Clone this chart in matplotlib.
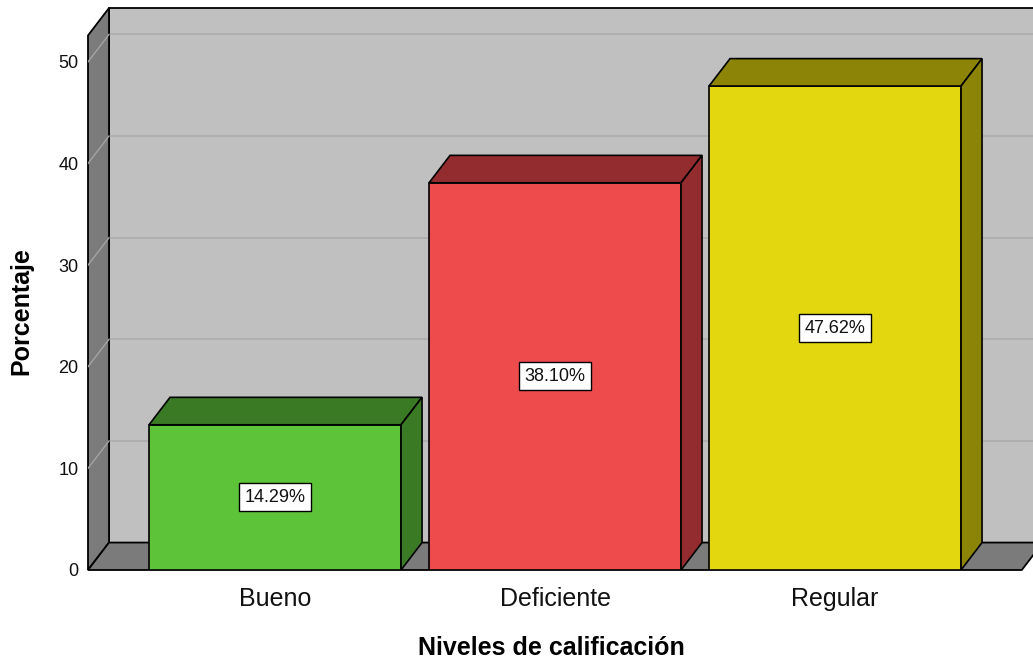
import matplotlib
matplotlib.use("Agg")
import matplotlib.pyplot as plt
import matplotlib.patches as mpatches
import numpy as np

plt.rcParams['font.family'] = ['Liberation Sans', 'DejaVu Sans']

# data
categorias = ['Bueno', 'Deficiente', 'Regular']
porcentajes = [14.29, 38.10, 47.62]
etiquetas = ['14.29%', '38.10%', '47.62%']
yticks = [0, 10, 20, 30, 40, 50]

# colours (front, dark top/side)
c_front = ['#5dc43a', '#ee4b4d', '#e3d70f']
c_dark = ['#3a7a25', '#922c2e', '#8c8407']

W = 0.9          # bar width
DX, DY = 0.075, 2.7   # 3d depth offset in data units
X0, X1 = -0.668, 2.707
Y1 = 55.3

fig = plt.figure(figsize=(10.33, 6.68), dpi=100)
ax = fig.add_axes([88/1033, 98/668, (1033-88)/1033, (660-98)/668])
ax.set_xlim(X0, X1)
ax.set_ylim(0, Y1)
for s in ax.spines.values():
    s.set_visible(False)

# back wall
back = mpatches.Rectangle((X0 + DX, DY), X1 - X0, Y1 - DY, facecolor='#c0c0c0',
                          edgecolor='black', lw=1.3, clip_on=False, zorder=0)
ax.add_patch(back)
# left wall
left = mpatches.Polygon([[X0, 0], [X0 + DX, DY], [X0 + DX, Y1], [X0, Y1 - DY]],
                        closed=True, facecolor='#7b7b7b', edgecolor='black', lw=1.3,
                        clip_on=False, zorder=1)
ax.add_patch(left)
# floor
floor = mpatches.Polygon([[X0, 0], [X1 - 0.04, 0], [X1 - 0.04 + DX, DY], [X0 + DX, DY]],
                         closed=True, facecolor='#7b7b7b', edgecolor='black', lw=1.3,
                         clip_on=False, zorder=1)
ax.add_patch(floor)

# gridlines
for t in yticks[1:]:
    ax.plot([X0 + DX, X1], [t + DY, t + DY], color='#acacac', lw=1.2, zorder=0.5)
    ax.plot([X0, X0 + DX], [t, t + DY], color='#a4a4a4', lw=1.0, zorder=1.5)

# bars
xs = np.arange(len(categorias))
for i, (x, v) in enumerate(zip(xs, porcentajes)):
    xl, xr = x - W / 2, x + W / 2
    ax.add_patch(mpatches.Rectangle((xl, 0), W, v, facecolor=c_front[i],
                                    edgecolor='black', lw=1.2, zorder=3))
    ax.add_patch(mpatches.Polygon([[xl, v], [xr, v], [xr + DX, v + DY], [xl + DX, v + DY]],
                                  closed=True, facecolor=c_dark[i], edgecolor='black',
                                  lw=1.2, zorder=3))
    ax.add_patch(mpatches.Polygon([[xr, 0], [xr + DX, DY], [xr + DX, v + DY], [xr, v]],
                                  closed=True, facecolor=c_dark[i], edgecolor='black',
                                  lw=1.2, zorder=3))
    ax.text(x, v / 2, etiquetas[i], ha='center', va='center', fontsize=13, zorder=4,
            color='#111111',
            bbox=dict(boxstyle='square,pad=0.3', facecolor='white', edgecolor='black', lw=1))

ax.set_yticks(yticks)
ax.set_yticklabels([str(t) for t in yticks], fontsize=13, color='#111111')
ax.set_xticks(xs)
ax.set_xticklabels(categorias, fontsize=18, color='#111111')
ax.tick_params(axis='y', length=0, pad=7)
ax.tick_params(axis='x', length=0, pad=12)

ax.set_ylabel('Porcentaje', fontsize=18, fontweight='bold')
ax.set_xlabel('Niveles de calificación', fontsize=18, fontweight='bold')
ax.yaxis.set_label_coords(-0.058, 0.461)
ax.xaxis.set_label_coords(0.49, -0.118)

fig.savefig('out.png', dpi=100)
